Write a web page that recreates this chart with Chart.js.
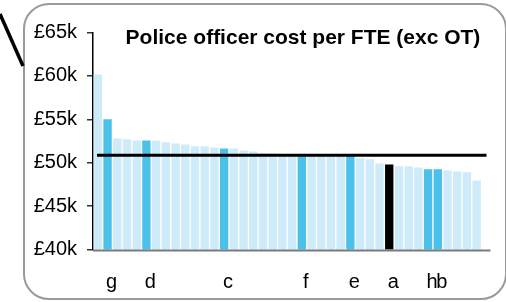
<!DOCTYPE html>
<html>
<head>
<meta charset="utf-8">
<script src="https://cdn.jsdelivr.net/npm/chart.js@4.4.1/dist/chart.umd.min.js"></script>
<style>
  html, body { margin: 0; padding: 0; background: #fff; }
  #wrap { position: relative; width: 506px; height: 302px; overflow: hidden; font-family: "Liberation Sans", Arial, sans-serif; }
  #frame { position: absolute; left: 23px; top: 3px; width: 484px; height: 297px; box-sizing: border-box; border: 2px solid #9a9a9a; border-radius: 26px; }
  #pointer { position: absolute; left: 0; top: 0; }
  #title { position: absolute; left: 103px; top: 26px; width: 400px; text-align: center; font-weight: bold; font-size: 21px; line-height: 21px; color: #000; white-space: nowrap; }
  #chart { position: absolute; left: 0; top: 0; }
</style>
</head>
<body>
<div id="wrap">
  <div id="frame"></div>
  <svg id="pointer" width="40" height="80"><line x1="0" y1="14" x2="23" y2="66" stroke="#000" stroke-width="3.5"/></svg>
  <canvas id="chart" width="506" height="302"></canvas>
  <div id="title">Police officer cost per FTE (exc OT)</div>
</div>
<script>
// forces, sorted by cost; only the named ones get a letter
const forceLabels = ['', 'g', '', '', '', 'd', '', '', '', '',
                     '', '', '', 'c', '', '', '', '', '', '',
                     '', 'f', '', '', '', '', 'e', '', '', '',
                     'a', '', '', '', 'h', 'b', '', '', '', ''];
// cost per FTE, £k
const costs = [60.15, 55.0, 52.8, 52.7, 52.55, 52.55, 52.55, 52.35, 52.2, 52.1,
               51.9, 51.9, 51.75, 51.65, 51.65, 51.4, 51.3, 51.1, 51.05, 51.0,
               51.0, 51.0, 51.0, 50.95, 50.95, 50.9, 50.9, 50.5, 50.4, 49.9,
               49.8, 49.6, 49.6, 49.45, 49.25, 49.25, 49.1, 49.0, 48.9, 47.95];
const comparators = ['g', 'd', 'c', 'f', 'e', 'h', 'b'];
const ownForce = 'a';
const averageCost = 50.85;
const yTicks = [40, 45, 50, 55, 60, 65];

const barColours = forceLabels.map(l =>
  l === ownForce ? '#000000' : comparators.includes(l) ? '#4bc1ea' : '#cdebf8'
);

// average line + x axis drawn over the bars
const refLines = {
  id: 'refLines',
  afterDatasetsDraw(chart) {
    const { ctx, chartArea: a, scales: { y } } = chart;
    const py = y.getPixelForValue(averageCost);
    ctx.save();
    ctx.strokeStyle = '#000';
    ctx.lineWidth = 3;
    ctx.beginPath();
    ctx.moveTo(a.left + 4, py);
    ctx.lineTo(a.right + 5, py);
    ctx.stroke();
    ctx.strokeStyle = '#7a7a7a';
    ctx.lineWidth = 2;
    ctx.beginPath();
    ctx.moveTo(a.left, a.bottom + 1);
    ctx.lineTo(a.right + 9, a.bottom + 1);
    ctx.stroke();
    ctx.restore();
  }
};

const font = { family: '"Liberation Sans", Arial, sans-serif', size: 20 };

new Chart(document.getElementById('chart').getContext('2d'), {
  type: 'bar',
  data: {
    labels: forceLabels,
    datasets: [{
      data: costs,
      backgroundColor: barColours,
      borderWidth: 0,
      barPercentage: 0.86,
      categoryPercentage: 1.0
    }]
  },
  options: {
    responsive: false,
    animation: false,
    layout: { padding: { top: 32.5, right: 24.5, bottom: 0, left: 0 } },
    plugins: { legend: { display: false }, tooltip: { enabled: false } },
    scales: {
      x: {
        grid: { display: false, drawTicks: false },
        border: { display: false },
        ticks: { autoSkip: false, maxRotation: 0, color: '#000', font: font, padding: 21, labelOffset: 4 },
        afterFit: s => { s.height = 52.5; }
      },
      y: {
        min: 40,
        max: 65,
        afterBuildTicks: s => { s.ticks = yTicks.map(v => ({ value: v })); },
        grid: { drawOnChartArea: false, drawTicks: true, tickLength: 6, color: '#333', lineWidth: 1.5 },
        border: { color: '#000', width: 1.5 },
        ticks: { color: '#000', font: font, padding: 10, callback: v => '£' + v + 'k' },
        afterFit: s => { s.width = 93; }
      }
    }
  },
  plugins: [refLines]
});
</script>
</body>
</html>
